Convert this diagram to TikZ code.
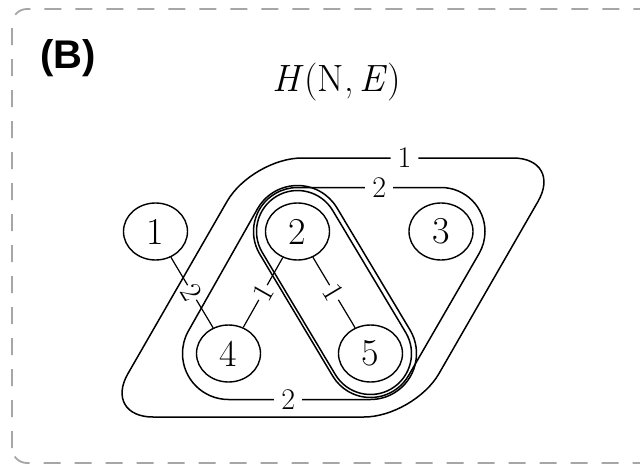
\documentclass[tikz,border=0pt]{standalone}
\usepackage{fontspec}
\newfontfamily\panelfont{Liberation Sans}
\usetikzlibrary{shapes,calc}

\begin{document}
\begin{tikzpicture}[x=1pt,y=1pt,
	vert/.style={draw, ellipse, line width=1.4pt, minimum width=64pt, minimum height=57pt, inner sep=0pt, font=\fontsize{38}{40}\selectfont},
	link/.style={line width=1.2pt},
	hyper/.style={line width=1.5pt},
	lab/.style={fill=white, inner sep=1.5pt, font=\fontsize{30}{32}\selectfont},
	hlab/.style={lab, inner xsep=7pt, inner ysep=0pt}]
	\useasboundingbox (0,0) rectangle (640,-466);
	\clip (0,0) rectangle (640,-466);
	% panel frame
	\draw[gray!70, line width=1.8pt, dash pattern=on 17pt off 14pt, rounded corners=15pt] (12,-463) rectangle (700,-9);
	\node (panel) at (68,-58) {\panelfont\bfseries\fontsize{40}{44}\selectfont (B)};
	\node (title) at (337,-82) {\fontsize{38}{40}\selectfont \textit{H}(N,\,\textit{E})};
	% vertices
	\node[vert] (n1) at (155.5,-231.5) {1};
	\node[vert] (n2) at (297.5,-231.5) {2};
	\node[vert] (n3) at (441,-231.5) {3};
	\node[vert] (n4) at (228.5,-353.5) {4};
	\node[vert] (n5) at (370.5,-353.5) {5};
	% edges
	\draw[link] (n1) -- node[lab, sloped] {2} (n4);
	\draw[link] (n4) -- node[lab, sloped] {1} (n2);
	\draw[link] (n2) -- node[lab, sloped] {1} (n5);
	% hyperedges
	\draw[hyper, rounded corners=50pt] (252,-158) -- node[hlab, pos=0.49] {1} (563,-158) -- (414,-417) -- (103,-417) -- cycle;
	\draw[hyper] ($(n2)+(30.9:46)$) -- ($(n5)+(30.9:46)$) arc[start angle=30.9, end angle=-90, radius=46]
		-- node[hlab, pos=0.58] {2} ($(n4)+(-90:46)$) arc[start angle=270, end angle=150.5, radius=46]
		-- ($(n2)+(150.5:46)$) arc[start angle=150.5, end angle=30.9, radius=46] -- cycle;
	\draw[hyper] ($(n2)+(30.9:41)$) -- ($(n5)+(30.9:41)$) arc[start angle=30.9, end angle=-149.1, radius=41]
		-- ($(n2)+(210.9:41)$) arc[start angle=210.9, end angle=30.9, radius=41] -- cycle;
	\draw[hyper] ($(n2)+(90:44)$) -- node[hlab, pos=0.57] {2} ($(n3)+(90:44)$) arc[start angle=90, end angle=-30, radius=44]
		-- ($(n5)+(-30:44)$) arc[start angle=330, end angle=210.9, radius=44]
		-- ($(n2)+(210.9:44)$) arc[start angle=210.9, end angle=90, radius=44] -- cycle;
\end{tikzpicture}
\end{document}
